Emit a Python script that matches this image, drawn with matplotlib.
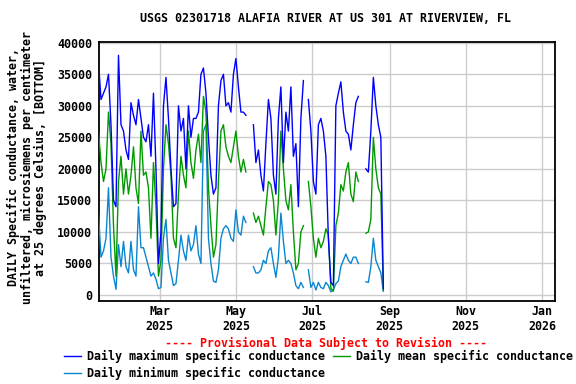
import matplotlib

matplotlib.use("Agg")
import matplotlib.pyplot as plt  # noqa: E402
import matplotlib.dates as mdates  # noqa: E402
import numpy as np  # noqa: E402
import pandas as pd  # noqa: E402

nan = np.nan

TITLE = "USGS 02301718 ALAFIA RIVER AT US 301 AT RIVERVIEW, FL"
YLABEL = ("DAILY Specific conductance, water,\n"
          "unfiltered, microsiemens per centimeter\n"
          "at 25 degrees Celsius, [BOTTOM]")
PROVISIONAL = "---- Provisional Data Subject to Revision ----"

# one reading every 2 days, starting 2025-01-11
start_date = "2025-01-11"
step = "2D"

daily_max = [
    37000, 31000, 32000, 33000, 35000, 27000, 15000, 14000, 38000, 27000,
    26000, 23000, 21500, 30500, 28500, 27000, 31000, 28000, 25000, 24300,
    27000, 22000, 32000, 20000, 5000, 10000, 30000, 34500, 28000, 20000,
    14000, 14500, 30000, 26000, 28000, 20000, 30000, 25000, 28000, 28000,
    29000, 35000, 36000, 32000, 25000, 19000, 16000, 17000, 30000, 34000,
    35000, 30000, 30500, 29000, 35000, 37500, 33000, 29000, 29000, 28500,
    nan, nan, 27000, 21000, 23000, 19000, 16500, 24000, 31000, 28000,
    19000, 16000, 28000, 33000, 21000, 29000, 26000, 33000, 22000, 24000,
    14000, 28000, 34000, nan, 31000, 26000, 18000, 16000, 27000, 28000,
    26000, 22000, 9000, 2000, 1500, 30000, 32000, 33800, 29000, 26000,
    25500, 23000, 27000, 30500, 31500, nan, nan, 20000, 19500, 26000,
    34500, 30000, 27000, 25000, 1000,
]

daily_mean = [
    26000, 21000, 18000, 20000, 29000, 24000, 11000, 3000, 18000, 22000,
    16000, 20000, 16000, 19000, 23500, 17000, 14500, 26000, 19000, 19500,
    17000, 9000, 21000, 14000, 3000, 5500, 20000, 27000, 24000, 19000,
    9000, 7500, 16000, 22000, 19000, 17000, 26000, 21000, 18500, 23000,
    25500, 21000, 31500, 29000, 17000, 11000, 6000, 8000, 18000, 26000,
    27000, 23500, 22000, 21000, 23500, 26000, 22000, 19500, 21500, 19500,
    nan, nan, 13000, 11500, 12500, 11000, 9500, 14000, 18000, 17500,
    15000, 9500, 15000, 26000, 20000, 15000, 13500, 17500, 10000, 4000,
    5000, 10000, 11000, nan, 18000, 14000, 9000, 6000, 9000, 7500,
    8500, 10500, 9500, 1000, 600, 11000, 13000, 17500, 16500, 19500,
    21000, 16000, 14800, 19500, 18000, nan, nan, 9800, 10000, 12000,
    25000, 20000, 17000, 16000, 800,
]

daily_min = [
    13000, 6000, 7000, 9000, 17000, 6000, 3000, 900, 8000, 4500,
    8500, 4500, 3500, 8500, 4000, 3000, 14000, 7500, 7500, 6000,
    4500, 3000, 3500, 2500, 1000, 1200, 9000, 12000, 5500, 3500,
    1500, 1800, 5500, 9500, 7000, 5500, 9500, 7000, 8000, 11000,
    6500, 5000, 26000, 27000, 9000, 5000, 2200, 2000, 4000, 9000,
    10500, 11000, 10500, 9000, 8500, 13500, 10000, 9500, 12500, 11500,
    nan, nan, 4500, 3500, 3500, 4000, 5500, 5000, 7000, 7500,
    5000, 2800, 6000, 13000, 8500, 5000, 5500, 5000, 3500, 1500,
    1000, 2000, 1200, nan, 4000, 1200, 2000, 800, 2000, 1200,
    1000, 2000, 1500, 500, 800, 1800, 2200, 4500, 5500, 6500,
    5500, 5000, 6000, 6000, 5000, nan, nan, 2100, 2000, 4500,
    9000, 5500, 4500, 3500, 600,
]

legend_labels = [
    "Daily maximum specific conductance",
    "Daily minimum specific conductance",
    "Daily mean specific conductance",
]
tick_dates = ["2025-03-01", "2025-05-01", "2025-07-01",
              "2025-09-01", "2025-11-01", "2026-01-01"]
tick_labels = ["Mar\n2025", "May\n2025", "Jul\n2025",
               "Sep\n2025", "Nov\n2025", "Jan\n2026"]
y_ticks = [0, 5000, 10000, 15000, 20000, 25000, 30000, 35000, 40000]

FONT = "DejaVu Sans Mono"
FS = 8.4
C_MAX = "#0000ff"
C_MEAN = "#009900"
C_MIN = "#0a86d0"

dates = pd.date_range(start_date, periods=len(daily_max), freq=step)

fig = plt.figure(figsize=(5.76, 3.84), dpi=100)
ax = fig.add_axes([98.5 / 576, 1 - 301 / 384, (554.5 - 98.5) / 576, (301 - 42) / 384])

l_min, = ax.plot(dates, daily_min, color=C_MIN, lw=1.0, zorder=3)
l_mean, = ax.plot(dates, daily_mean, color=C_MEAN, lw=1.0, zorder=4)
l_max, = ax.plot(dates, daily_max, color=C_MAX, lw=1.0, zorder=5)

ax.set_xlim(pd.Timestamp("2025-01-11"), pd.Timestamp("2026-01-11"))
ax.set_ylim(-950, 40120)

ax.set_xticks([mdates.date2num(pd.Timestamp(d)) for d in tick_dates])
ax.set_xticklabels(tick_labels)
ax.set_yticks(y_ticks)
ax.set_yticklabels([str(v) for v in y_ticks])
ax.tick_params(axis="both", length=0, labelsize=FS)
ax.tick_params(axis="y", pad=4.5)
ax.tick_params(axis="x", pad=3)
for lab in ax.get_xticklabels() + ax.get_yticklabels():
    lab.set_fontfamily(FONT)
    lab.set_fontweight("bold")
for lab in ax.get_xticklabels():
    lab.set_linespacing(1.15)

ax.grid(True, color="#cccccc", lw=1.0, zorder=0)
ax.set_axisbelow(True)
for sp in ax.spines.values():
    sp.set_color("black")
    sp.set_linewidth(1.3)

fig.text(326 / 576, 1 - 19 / 384, TITLE, ha="center", va="center",
         fontsize=FS, fontfamily=FONT, fontweight="bold")
fig.text(27 / 576, 1 - 167 / 384, YLABEL, ha="center", va="center",
         rotation=90, multialignment="center", linespacing=1.0,
         fontsize=FS, fontfamily=FONT, fontweight="bold")
fig.text(326 / 576, 1 - 343 / 384, PROVISIONAL, ha="center", va="center",
         color="red", fontsize=FS, fontfamily=FONT, fontweight="bold")

leg = fig.legend([l_max, l_min, l_mean], legend_labels, ncol=2,
                 loc="upper left", bbox_to_anchor=(64 / 576, 1 - 350 / 384),
                 frameon=False, handlelength=1.45, handletextpad=0.5,
                 columnspacing=0.7, labelspacing=0.35, borderaxespad=0,
                 borderpad=0,
                 prop={"family": FONT, "weight": "bold", "size": FS})

fig.savefig("out.png", dpi=100)
plt.close(fig)
